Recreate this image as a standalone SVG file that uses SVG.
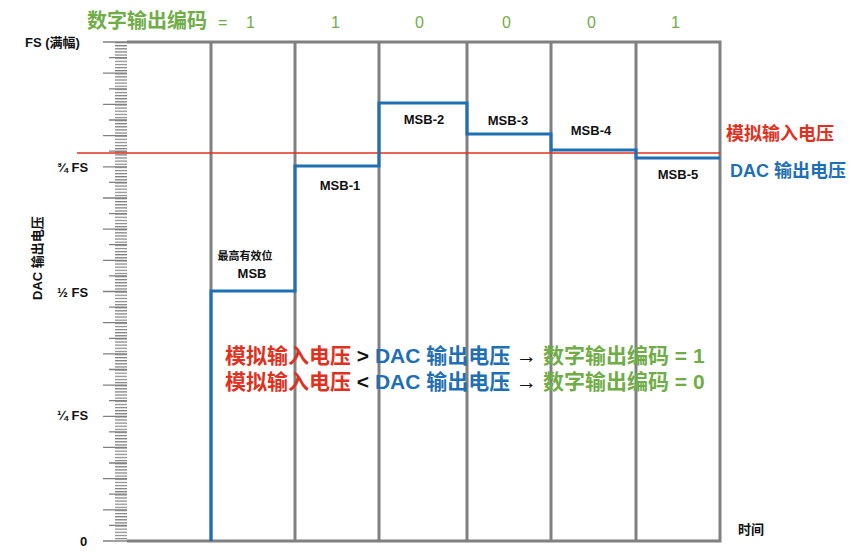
<svg xmlns="http://www.w3.org/2000/svg" width="865" height="554" viewBox="0 0 865 554">
<defs>
<style>
text{font-family:"Liberation Sans","Noto Sans CJK SC",sans-serif}
.g{stroke:#808080;stroke-width:3;fill:none}
.tk{stroke:#808080;stroke-width:1.3}
.lbl{font-size:13px;font-weight:bold;fill:#111}
.grn{fill:#70ad47;font-size:16px}
.big{font-size:21px;font-weight:bold}
</style>
<pattern id="minor" x="0" y="42" width="12" height="3.119" patternUnits="userSpaceOnUse">
<line x1="0" y1="0.6" x2="12" y2="0.6" stroke="#808080" stroke-width="1.2"/>
</pattern>
</defs>
<rect width="865" height="554" fill="#fff"/>
<g id="axis">
<rect x="115" y="42" width="12" height="499" fill="url(#minor)"/>
<path class="tk" d="M103 42H127M103 73.2H127M103 104.4H127M103 135.6H127M103 166.8H127M103 198H127M103 229.1H127M103 260.3H127M103 291.5H127M103 322.7H127M103 353.9H127M103 385.1H127M103 416.3H127M103 447.4H127M103 478.6H127M103 509.8H127M103 541H127"/>
<path class="tk" d="M109 57.6H127M109 88.8H127M109 120H127M109 151.2H127M109 182.4H127M109 213.6H127M109 244.7H127M109 275.9H127M109 307.1H127M109 338.3H127M109 369.5H127M109 400.7H127M109 431.9H127M109 463H127M109 494.2H127M109 525.4H127"/>
<path class="g" d="M127 42H720V541H127M211 42V541M295 42V541M379 42V541M467 42V541M551 42V541M636 42V541"/>
<text class="lbl" x="25" y="47">FS (满幅)</text>
<text class="lbl" x="57" y="172">¾ FS</text>
<text class="lbl" x="57" y="297">½ FS</text>
<text class="lbl" x="57" y="420">¼ FS</text>
<text class="lbl" x="80" y="546">0</text>
<text class="lbl" x="42" y="300" transform="rotate(-90 42 300)">DAC 输出电压</text>
<text class="lbl" x="738" y="534">时间</text>
</g>
<g id="header">
<text x="87" y="28" fill="#70ad47" style="font-size:20px;font-weight:bold">数字输出编码</text>
<text class="grn" x="218" y="28">=</text>
<text class="grn" x="246" y="28">1</text>
<text class="grn" x="331" y="28">1</text>
<text class="grn" x="415" y="28">0</text>
<text class="grn" x="502" y="28">0</text>
<text class="grn" x="587" y="28">0</text>
<text class="grn" x="671" y="28">1</text>
</g>
<g id="signals">
<line x1="77" y1="153" x2="720" y2="153" stroke="#e03020" stroke-width="1.5"/>
<path d="M211 541V291H295V166H379V103H467V134H551V150H636V158H720" fill="none" stroke="#1f6fb5" stroke-width="3"/>
</g>
<g id="labels">
<text class="lbl" x="245" y="260" text-anchor="middle" style="font-size:11px">最高有效位</text>
<text class="lbl" x="252" y="278" text-anchor="middle">MSB</text>
<text class="lbl" x="340" y="190" text-anchor="middle">MSB-1</text>
<text class="lbl" x="424" y="124" text-anchor="middle">MSB-2</text>
<text class="lbl" x="508" y="125" text-anchor="middle">MSB-3</text>
<text class="lbl" x="591" y="135" text-anchor="middle">MSB-4</text>
<text class="lbl" x="678" y="179" text-anchor="middle">MSB-5</text>
<text x="726" y="140" fill="#e03020" font-size="18" font-weight="bold">模拟输入电压</text>
<text x="730" y="177" fill="#1f6fb5" font-size="18" font-weight="bold">DAC 输出电压</text>
</g>
<g id="legend" class="big">
<text x="225" y="363"><tspan fill="#e03020">模拟输入电压</tspan><tspan fill="#111"> &gt; </tspan><tspan fill="#1f6fb5">DAC 输出电压</tspan><tspan fill="#111"> → </tspan><tspan fill="#70ad47">数字输出编码 = 1</tspan></text>
<text x="225" y="389"><tspan fill="#e03020">模拟输入电压</tspan><tspan fill="#111"> &lt; </tspan><tspan fill="#1f6fb5">DAC 输出电压</tspan><tspan fill="#111"> → </tspan><tspan fill="#70ad47">数字输出编码 = 0</tspan></text>
</g>
</svg>
